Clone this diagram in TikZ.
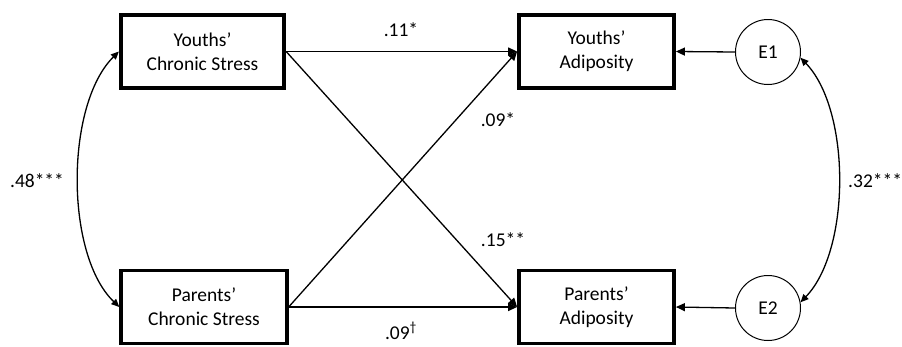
\documentclass[tikz,border=0pt]{standalone}
\usepackage{fontspec}
\setmainfont{Carlito}
\usetikzlibrary{arrows.meta}
\begin{document}
\begin{tikzpicture}[x=1pt,y=-1pt,
  font=\fontsize{19.5}{24}\selectfont,
  varbox/.style={draw,line width=3.8pt,align=center,minimum height=73pt,inner sep=0pt},
  errnode/.style={draw,circle,line width=1pt,minimum size=65pt,inner sep=0pt},
  path/.style={line width=1.3pt,-{Triangle[length=9pt,width=8pt]}},
  cov/.style={line width=1.3pt,{Triangle[length=8pt,width=7pt]}-{Triangle[length=8pt,width=7pt]}},
  lbl/.style={inner sep=0pt}]
\useasboundingbox (0,0) rectangle (902,346);
\node[varbox,minimum width=163.5pt] (lt) at (202.5,51.5) {Youths’\\Chronic Stress};
\node[varbox,minimum width=165.5pt] (lb) at (204,307) {Parents’\\Chronic Stress};
\node[varbox,minimum width=155pt] (rt) at (596.5,51.5) {Youths’\\Adiposity};
\node[varbox,minimum width=155pt] (rb) at (596.5,307) {Parents’\\Adiposity};
\node[errnode] (e1) at (768,52) {E1};
\node[errnode] (e2) at (768,308) {E2};
\draw[path] (lt.east) -- (rt.west);
\draw[path] (lb.east) -- (rb.west);
\draw[path] (lt.east) -- (rb.west);
\draw[path] (lb.east) -- (rt.west);
\draw[path] (e1.west) -- (rt.east);
\draw[path] (e2.west) -- (rb.east);
\draw[cov] (lt.west) .. controls (65,105) and (65,255) .. (lb.west);
\draw[cov] (e1.-10) .. controls (851,110) and (851,250) .. (e2.10);
\node[lbl] (l48) at (37,181) {.48***};
\node[lbl,anchor=west] (l32) at (848,181) {.32***};
\node[lbl] (l11) at (401,30) {.11*};
\node[lbl] (l09a) at (498,120) {.09*};
\node[lbl] (l15) at (503,240) {.15**};
\node[lbl] (l09b) at (401,331) {.09\textsuperscript{†}};
\end{tikzpicture}
\end{document}
